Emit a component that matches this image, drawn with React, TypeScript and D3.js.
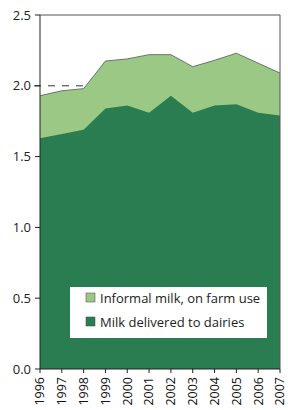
import React from "react";
import * as d3 from "d3";

const years = [1996, 1997, 1998, 1999, 2000, 2001, 2002, 2003, 2004, 2005, 2006, 2007];
const dairies = [1.63, 1.66, 1.69, 1.84, 1.86, 1.81, 1.93, 1.81, 1.86, 1.87, 1.81, 1.79];
const totals = [1.93, 1.965, 1.98, 2.175, 2.19, 2.22, 2.22, 2.135, 2.18, 2.23, 2.16, 2.09];
const yTicks = [0, 0.5, 1.0, 1.5, 2.0, 2.5];
const legendLabels = ["Informal milk, on farm use", "Milk delivered to dairies"];

const W = 288, H = 410;
const L = 40, R = 280, T = 15, B = 369;
const DARK = "#2a7c51";
const LIGHT = "#9bc985";
const FONT = "'Open Sans', 'Noto Sans', sans-serif";

export default function App() {
  const x = d3.scaleLinear().domain([1996, 2007]).range([L, R]);
  const y = d3.scaleLinear().domain([0, 2.5]).range([B, T]);
  const idx = years.map((_, i) => i);
  const areaDark = d3.area<number>().x(i => x(years[i])).y0(y(0)).y1(i => y(dairies[i]))(idx) || "";
  const areaLight = d3.area<number>().x(i => x(years[i])).y0(y(0)).y1(i => y(totals[i]))(idx) || "";
  const topLine = d3.line<number>().x(i => x(years[i])).y(i => y(totals[i]))(idx) || "";
  return (
    <svg width={W} height={H} style={{ position: "absolute", left: 0, top: 0 }}>
      <rect x={0} y={0} width={W} height={H} fill="#fff" />
      <line x1={L - 6} x2={R} y1={y(2)} y2={y(2)} stroke="#333" strokeWidth={1} strokeDasharray="7,7" />
      <path d={areaLight} fill={LIGHT} />
      <path d={areaDark} fill={DARK} />
      <path d={topLine} fill="none" stroke="#4a5a55" strokeWidth={0.8} />
      <line x1={L} x2={R} y1={T} y2={T} stroke="#555" strokeWidth={1} />
      <line x1={R} x2={R} y1={T} y2={B} stroke="#555" strokeWidth={1} />
      <line x1={L} x2={L} y1={T} y2={B} stroke="#222" strokeWidth={1} />
      <line x1={L} x2={R} y1={B} y2={B} stroke="#222" strokeWidth={1} />
      {yTicks.map(t => (
        <g key={t}>
          <line x1={L - 5} x2={L} y1={y(t)} y2={y(t)} stroke="#222" />
          <text x={L - 9} y={y(t)} dy="0.35em" textAnchor="end" fontFamily={FONT} fontSize={13} fill="#222">{t.toFixed(1)}</text>
        </g>
      ))}
      {years.map(yr => (
        <g key={yr}>
          <line x1={x(yr)} x2={x(yr)} y1={B} y2={B + 4} stroke="#222" />
          <text transform={`translate(${x(yr)},${B + 8}) rotate(-90)`} dy="0.35em" textAnchor="end" fontFamily={FONT} fontSize={12.5} fill="#111">{yr}</text>
        </g>
      ))}
      <rect x={70} y={287} width={197} height={51} fill="#fff" />
      {legendLabels.map((lab, i) => (
        <g key={lab}>
          <rect x={86} y={293 + i * 24} width={9} height={9} fill={i === 0 ? LIGHT : DARK} stroke="#444" strokeWidth={0.5} />
          <text x={100} y={298 + i * 24} dy="0.35em" fontFamily={FONT} fontSize={13} fill="#222">{lab}</text>
        </g>
      ))}
    </svg>
  );
}
